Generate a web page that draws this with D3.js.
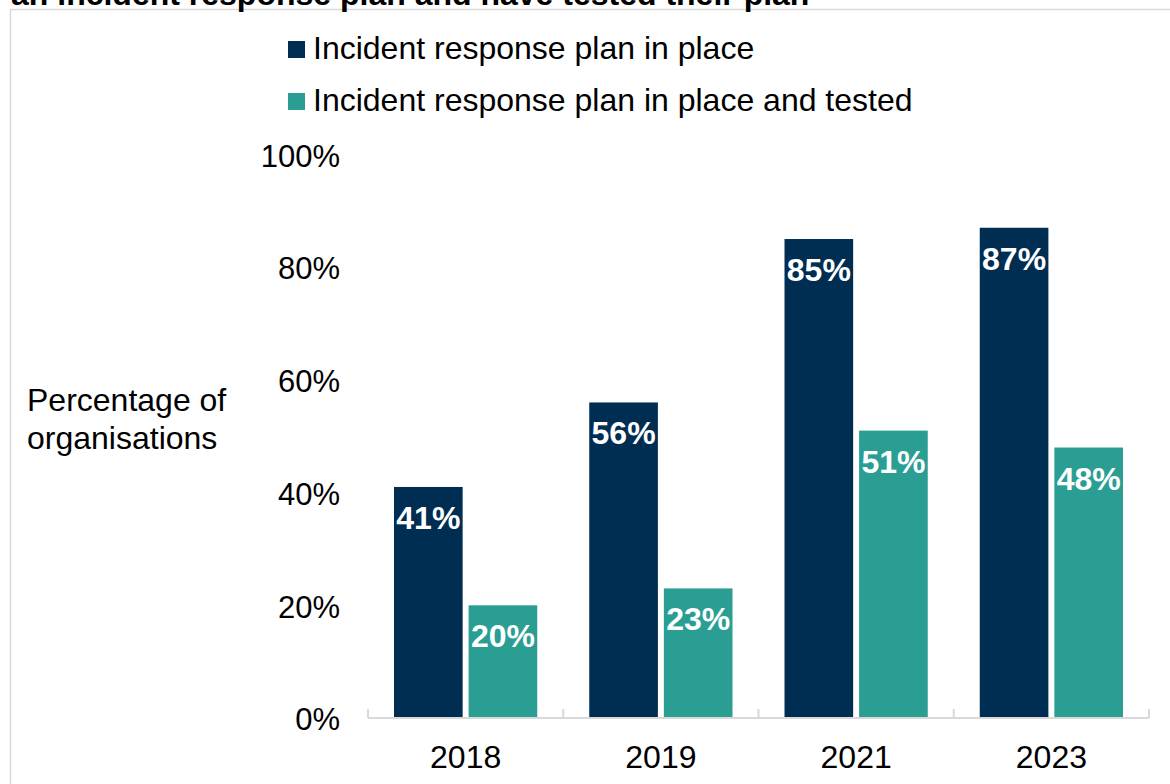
<!DOCTYPE html>
<html>
<head>
<meta charset="utf-8">
<script src="https://cdn.jsdelivr.net/npm/d3@7"></script>
<style>
  html, body { margin: 0; padding: 0; background: #fff; }
  svg { display: block; font-family: "Liberation Sans", Arial, sans-serif; }
</style>
</head>
<body>
<svg id="chart" width="1170" height="784"></svg>
<script>
// Survey years and the share of organisations for each measure (%)
const years = ["2018", "2019", "2021", "2023"];
const planInPlace = [41, 56, 85, 87];
const planTested = [20, 23, 51, 48];
const yTickValues = [0, 20, 40, 60, 80, 100];
const seriesNames = ["Incident response plan in place", "Incident response plan in place and tested"];
const seriesColors = ["#002d52", "#2b9e94"];

const svg = d3.select("#chart");

// Frame and cut-off heading line
svg.append("rect")
  .attr("x", 10.5).attr("y", 9.5)
  .attr("width", 1200).attr("height", 800)
  .attr("fill", "none").attr("stroke", "#d9d9d9").attr("stroke-width", 1.5);

svg.append("text")
  .attr("x", 11).attr("y", 5)
  .attr("font-size", 32).attr("font-weight", "bold").attr("fill", "#000")
  .text("an incident response plan and have tested their plan");

// Scales
const x = d3.scaleBand().domain(years).range([368, 1149]).paddingInner(0).paddingOuter(0);
const xInner = d3.scaleBand().domain([0, 1]).range([26, x.bandwidth() - 26]).paddingInner(0.08);
const y = d3.scaleLinear().domain([0, 100]).range([718, 154.5]);

// Y axis labels (no line)
const yAxis = svg.append("g")
  .attr("transform", "translate(368,0)")
  .call(d3.axisLeft(y).tickValues(yTickValues).tickSize(0).tickPadding(28).tickFormat(d => d + "%"));
yAxis.select(".domain").remove();
yAxis.selectAll("text").attr("font-size", 31).attr("fill", "#000").attr("dy", "0.38em")
  .attr("font-family", "Liberation Sans, Arial, sans-serif");

// Axis title
const yTitle = svg.append("text").attr("font-size", 32).attr("fill", "#000");
yTitle.append("tspan").attr("x", 27).attr("y", 411).text("Percentage of");
yTitle.append("tspan").attr("x", 27).attr("y", 449).text("organisations");

// Bars
const rows = years.map((yr, i) => ({ year: yr, values: [planInPlace[i], planTested[i]] }));
const groups = svg.append("g").selectAll("g")
  .data(rows).join("g")
  .attr("transform", d => `translate(${x(d.year)},0)`);

groups.selectAll("rect")
  .data(d => d.values.map((v, k) => ({ k, v })))
  .join("rect")
  .attr("x", d => xInner(d.k))
  .attr("width", xInner.bandwidth())
  .attr("y", d => y(d.v))
  .attr("height", d => y(0) - y(d.v))
  .attr("fill", d => seriesColors[d.k]);

groups.selectAll("text.value")
  .data(d => d.values.map((v, k) => ({ k, v })))
  .join("text")
  .attr("class", "value")
  .attr("x", d => xInner(d.k) + xInner.bandwidth() / 2)
  .attr("y", d => y(d.v) + 42)
  .attr("text-anchor", "middle")
  .attr("font-size", 32).attr("font-weight", "bold").attr("fill", "#fff")
  .text(d => d.v + "%");

// X axis line, boundary ticks and year labels
const axisColor = "#d9d9d9";
svg.append("line")
  .attr("x1", x.range()[0]).attr("x2", x.range()[1])
  .attr("y1", y(0)).attr("y2", y(0))
  .attr("stroke", axisColor).attr("stroke-width", 2);
const bounds = years.map(d => x(d)).concat([x.range()[1]]);
svg.append("g").selectAll("line")
  .data(bounds).join("line")
  .attr("x1", d => d).attr("x2", d => d)
  .attr("y1", y(0)).attr("y2", y(0) - 9)
  .attr("stroke", axisColor).attr("stroke-width", 2);

const xAxis = svg.append("g")
  .attr("transform", `translate(0,${y(0)})`)
  .call(d3.axisBottom(x).tickSize(0).tickPadding(27));
xAxis.select(".domain").remove();
xAxis.selectAll("text").attr("font-size", 32).attr("fill", "#000")
  .attr("font-family", "Liberation Sans, Arial, sans-serif");

// Legend
const legend = svg.append("g").selectAll("g")
  .data(seriesNames).join("g")
  .attr("transform", (d, i) => `translate(288,${41 + i * 52})`);
legend.append("rect")
  .attr("width", 17).attr("height", 17)
  .attr("fill", (d, i) => seriesColors[i]);
legend.append("text")
  .attr("x", 25).attr("y", 18)
  .attr("font-size", 32).attr("fill", "#000")
  .text(d => d);
</script>
</body>
</html>
